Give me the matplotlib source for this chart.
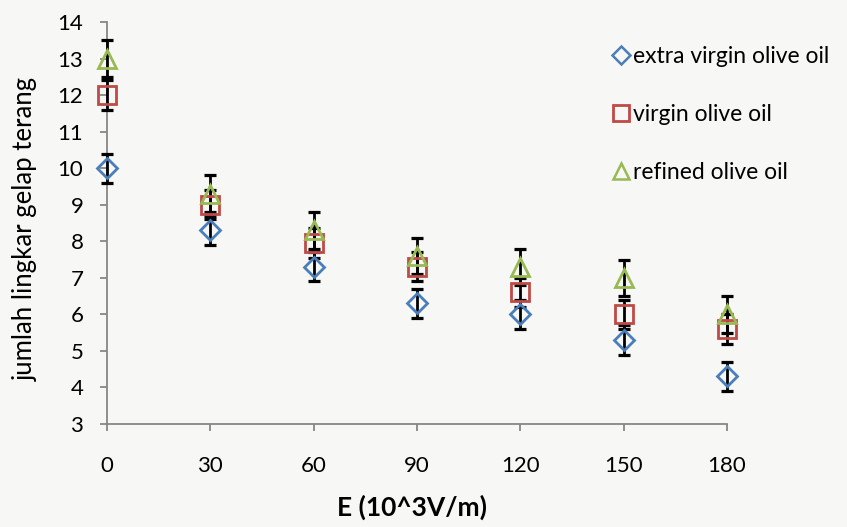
import matplotlib
matplotlib.use("Agg")
import matplotlib.pyplot as plt
from matplotlib.lines import Line2D

plt.rcParams['font.family'] = ['Lato', 'DejaVu Sans']

x_vals = [0, 30, 60, 90, 120, 150, 180]
extra_virgin = [10.0, 8.3, 7.3, 6.3, 6.0, 5.3, 4.3]
virgin = [12.0, 9.0, 7.95, 7.3, 6.6, 6.0, 5.6]
refined = [13.0, 9.3, 8.3, 7.6, 7.3, 7.0, 6.0]
err_extra = [0.4] * 7
err_virgin = [0.4] * 7
err_refined = [0.5] * 7
labels = ["extra virgin olive oil", "virgin olive oil", "refined olive oil"]
y_ticks = list(range(3, 15))

bg = '#F7F8F6'
fig = plt.figure(figsize=(8.47, 5.27), dpi=100, facecolor=bg)
ax = fig.add_axes([107/847, 1-424/527, (727-107)/847, (424-22)/527])
ax.set_facecolor(bg)

series = [
    (extra_virgin, err_extra, 'D', '#4A7EBB', 10.5),
    (virgin, err_virgin, 's', '#BE4B48', 13.5),
    (refined, err_refined, '^', '#98B954', 13.5),
]
for vals, err, m, c, ms in series:
    eb = ax.errorbar(x_vals, vals, yerr=err, fmt='none', ecolor='black',
                     elinewidth=2.0, capsize=4.5, capthick=2.3, zorder=3)
    for art in eb.lines[1]:
        art.set_clip_on(False)
    for art in eb.lines[2]:
        art.set_clip_on(False)
    ax.plot(x_vals, vals, linestyle='none', marker=m, markersize=ms,
            markerfacecolor='none', markeredgecolor=c, markeredgewidth=2.0,
            zorder=4, clip_on=False)

ax.set_xlim(0, 180)
ax.set_ylim(3, 14)
ax.set_xticks(x_vals)
ax.set_yticks(y_ticks)
for s in ['top', 'right']:
    ax.spines[s].set_visible(False)
for s in ['left', 'bottom']:
    ax.spines[s].set_color('#868686')
    ax.spines[s].set_linewidth(1.3)
    ax.spines[s].set_zorder(1)
ax.tick_params(axis='both', colors='#868686', length=5, width=1.3, labelcolor='black',
               labelsize=16)
ax.tick_params(axis='x', pad=18)
ax.tick_params(axis='y', pad=12)

fig.text(25/847, 1-229/527, "jumlah lingkar gelap terang", rotation=90,
         ha='center', va='center', fontsize=18.5)
fig.text(412/847, 1-507/527, "E (10^3V/m)", ha='center', va='center',
         fontsize=19, fontweight='bold')

handles = [
    Line2D([], [], linestyle='none', marker='D', markersize=9, markerfacecolor='none',
           markeredgecolor='#4A7EBB', markeredgewidth=1.8),
    Line2D([], [], linestyle='none', marker='s', markersize=12, markerfacecolor='none',
           markeredgecolor='#BE4B48', markeredgewidth=2.0),
    Line2D([], [], linestyle='none', marker='^', markersize=12, markerfacecolor='none',
           markeredgecolor='#98B954', markeredgewidth=1.8),
]
fig.legend(handles, labels, loc='upper left', bbox_to_anchor=(600/847, 1-35/527),
           frameon=False, fontsize=16.5, labelspacing=1.6, handlelength=0.8,
           handletextpad=0.12, borderpad=0)

fig.savefig("out.png", dpi=100, facecolor=bg)
